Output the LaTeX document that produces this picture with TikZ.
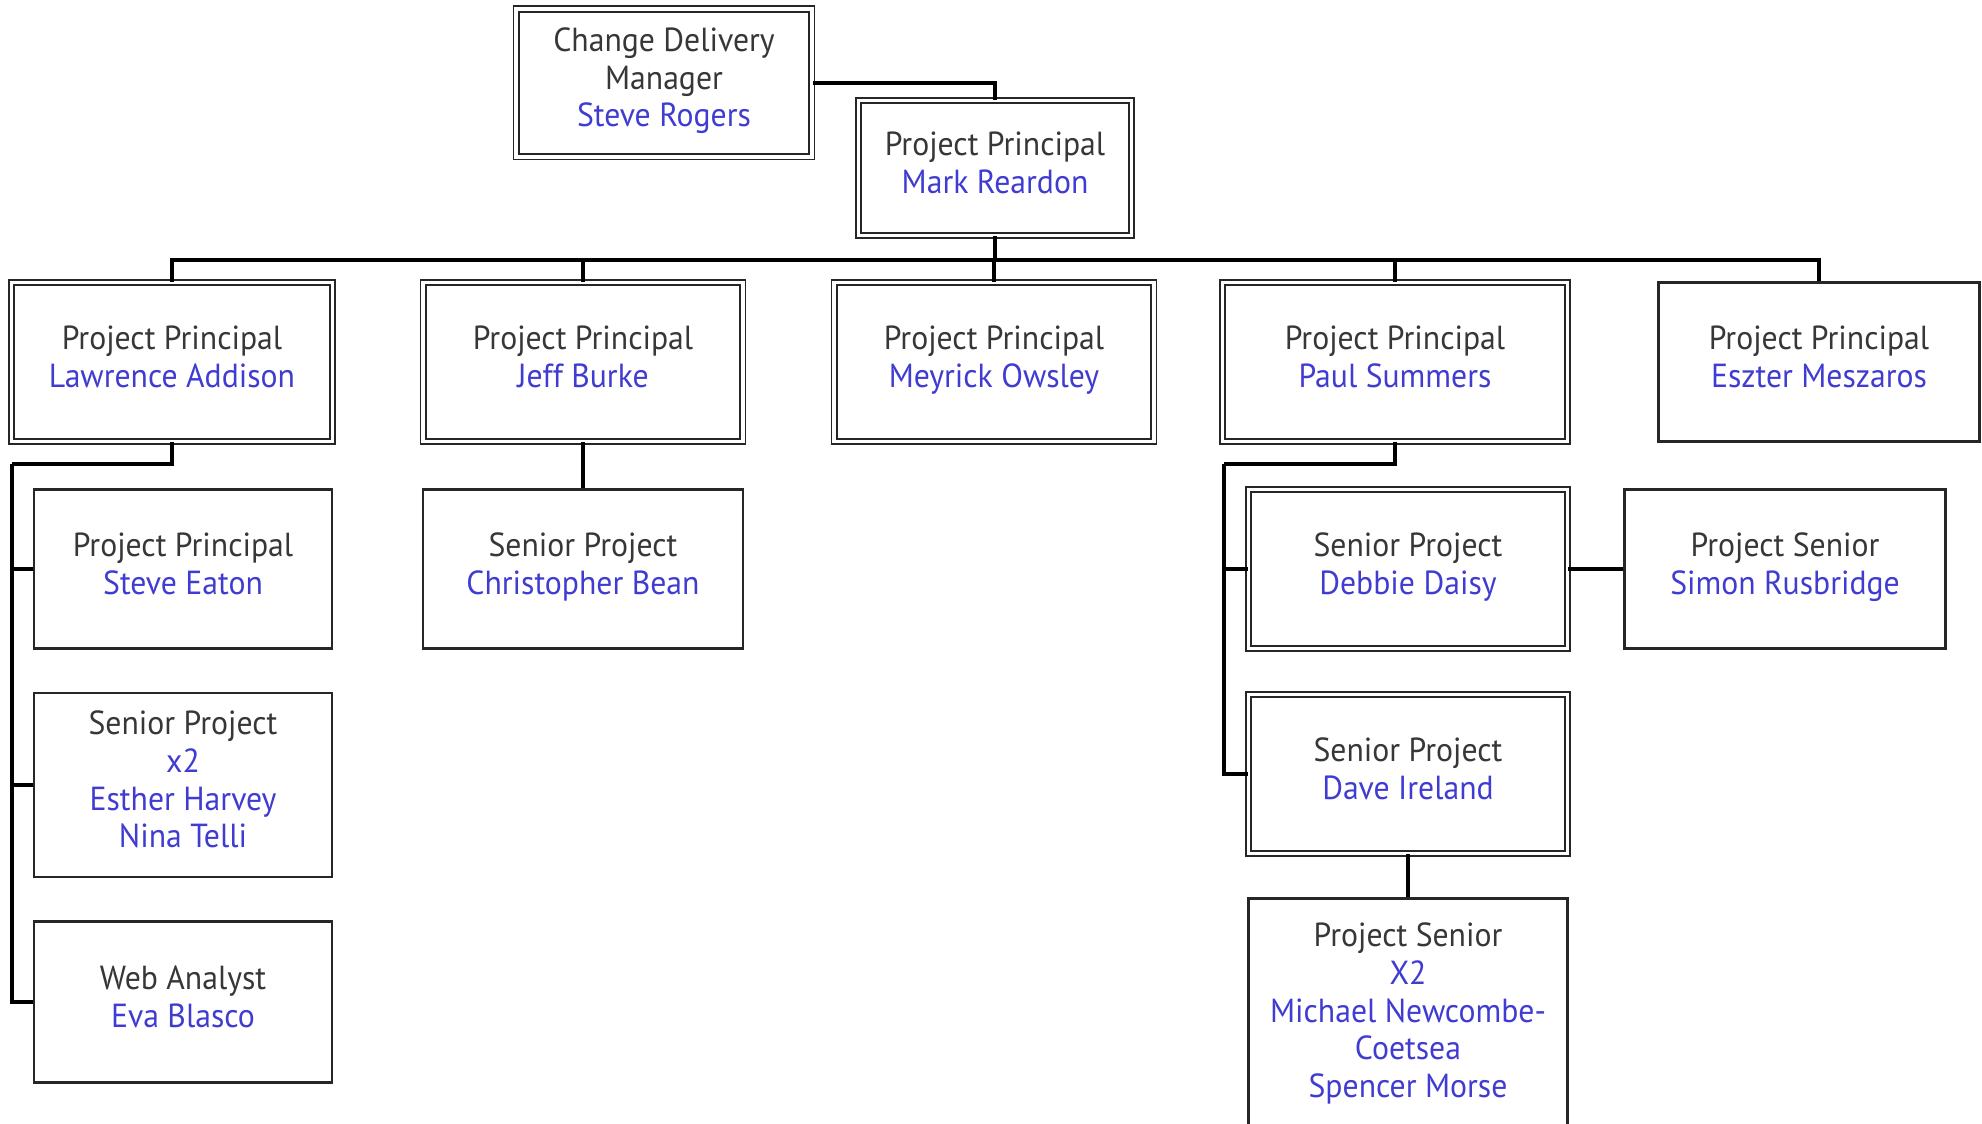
\documentclass[tikz,border=0pt]{standalone}
\usepackage{fontspec}
\setmainfont{PT Sans}[FakeStretch=0.95]
\usepackage{tikz}
\usetikzlibrary{positioning, calc}
\usepackage{xcolor}
\definecolor{role}{RGB}{55,55,55}
\definecolor{nm}{RGB}{64,60,210}

\tikzset{
  box/.style={draw=black!85, line width=1.2pt, align=center, text=role, inner sep=0pt,
    font=\fontsize{19}{21.5}\selectfont,
    execute at begin node=\rule{0pt}{19.5pt}, execute at end node=\strut},
  dbox/.style={box, double=white, double distance=2pt, line width=1pt},
  link/.style={line width=2.1pt, black}
}

\begin{document}
\begin{tikzpicture}[x=0.02cm, y=-0.02cm]
  \fill[white] (0,0) rectangle (1982,1124);
  \useasboundingbox (0,0) rectangle (1982,1124);

  \node[dbox, minimum width=5.92cm, minimum height=2.96cm] (cdm) at (664,83)
    {Change Delivery\\Manager\\\textcolor{nm}{Steve Rogers}};
  \node[dbox, minimum width=5.46cm, minimum height=2.7cm] (mr) at (995,168)
    {Project Principal\\\textcolor{nm}{Mark Reardon}};

  \node[dbox, minimum width=6.42cm, minimum height=3.18cm] (la) at (172,362)
    {Project Principal\\\textcolor{nm}{Lawrence Addison}};
  \node[dbox, minimum width=6.4cm, minimum height=3.18cm] (jb) at (583,362)
    {Project Principal\\\textcolor{nm}{Jeff Burke}};
  \node[dbox, minimum width=6.4cm, minimum height=3.18cm] (mo) at (994,362)
    {Project Principal\\\textcolor{nm}{Meyrick Owsley}};
  \node[dbox, minimum width=6.9cm, minimum height=3.18cm] (ps) at (1395,362)
    {Project Principal\\\textcolor{nm}{Paul Summers}};
  \node[box, minimum width=6.42cm, minimum height=3.18cm] (em) at (1819,362)
    {Project Principal\\\textcolor{nm}{Eszter Meszaros}};

  \node[box, minimum width=5.96cm, minimum height=3.18cm] (se) at (183,569)
    {Project Principal\\\textcolor{nm}{Steve Eaton}};
  \node[box, minimum width=5.96cm, minimum height=3.68cm] (eh) at (183,785)
    {Senior Project\\\textcolor{nm}{x2}\\\textcolor{nm}{Esther Harvey}\\\textcolor{nm}{Nina Telli}};
  \node[box, minimum width=5.96cm, minimum height=3.22cm] (eb) at (183,1002)
    {Web Analyst\\\textcolor{nm}{Eva Blasco}};

  \node[box, minimum width=6.4cm, minimum height=3.18cm] (cb) at (583,569)
    {Senior Project\\\textcolor{nm}{Christopher Bean}};

  \node[dbox, minimum width=6.38cm, minimum height=3.18cm] (dd) at (1408,569)
    {Senior Project\\\textcolor{nm}{Debbie Daisy}};
  \node[box, minimum width=6.42cm, minimum height=3.18cm] (sr) at (1785,569)
    {Project Senior\\\textcolor{nm}{Simon Rusbridge}};
  \node[dbox, minimum width=6.38cm, minimum height=3.18cm] (di) at (1408,774)
    {Senior Project\\\textcolor{nm}{Dave Ireland}};
  \node[box, minimum width=6.38cm, minimum height=4.7cm] (mnc) at (1408,1016)
    {Project Senior\\\textcolor{nm}{X2}\\\textcolor{nm}{Michael Newcombe-}\\\textcolor{nm}{Coetsea}\\\textcolor{nm}{Spencer Morse}};

  \coordinate (bus) at (0,260);
  \coordinate (lelbow) at (12,464);
  \coordinate (pelbow) at (1224,464);

  \draw[link] (cdm.east) -| (mr.north);
  \draw[link] (mr.south) -- (bus -| mr.south);
  \foreach \n in {la,jb,mo,ps,em}
    \draw[link] (\n.north) |- (bus -| mr.south);
  \draw[link] (la.south) |- (lelbow);
  \foreach \n in {se,eh,eb}
    \draw[link] (\n.west) -| (lelbow);
  \draw[link] (jb) -- (cb);
  \draw[link] (ps.south) |- (pelbow);
  \foreach \n in {dd,di}
    \draw[link] (\n.west) -| (pelbow);
  \draw[link] (dd) -- (sr);
  \draw[link] (di) -- (mnc);
\end{tikzpicture}
\end{document}
